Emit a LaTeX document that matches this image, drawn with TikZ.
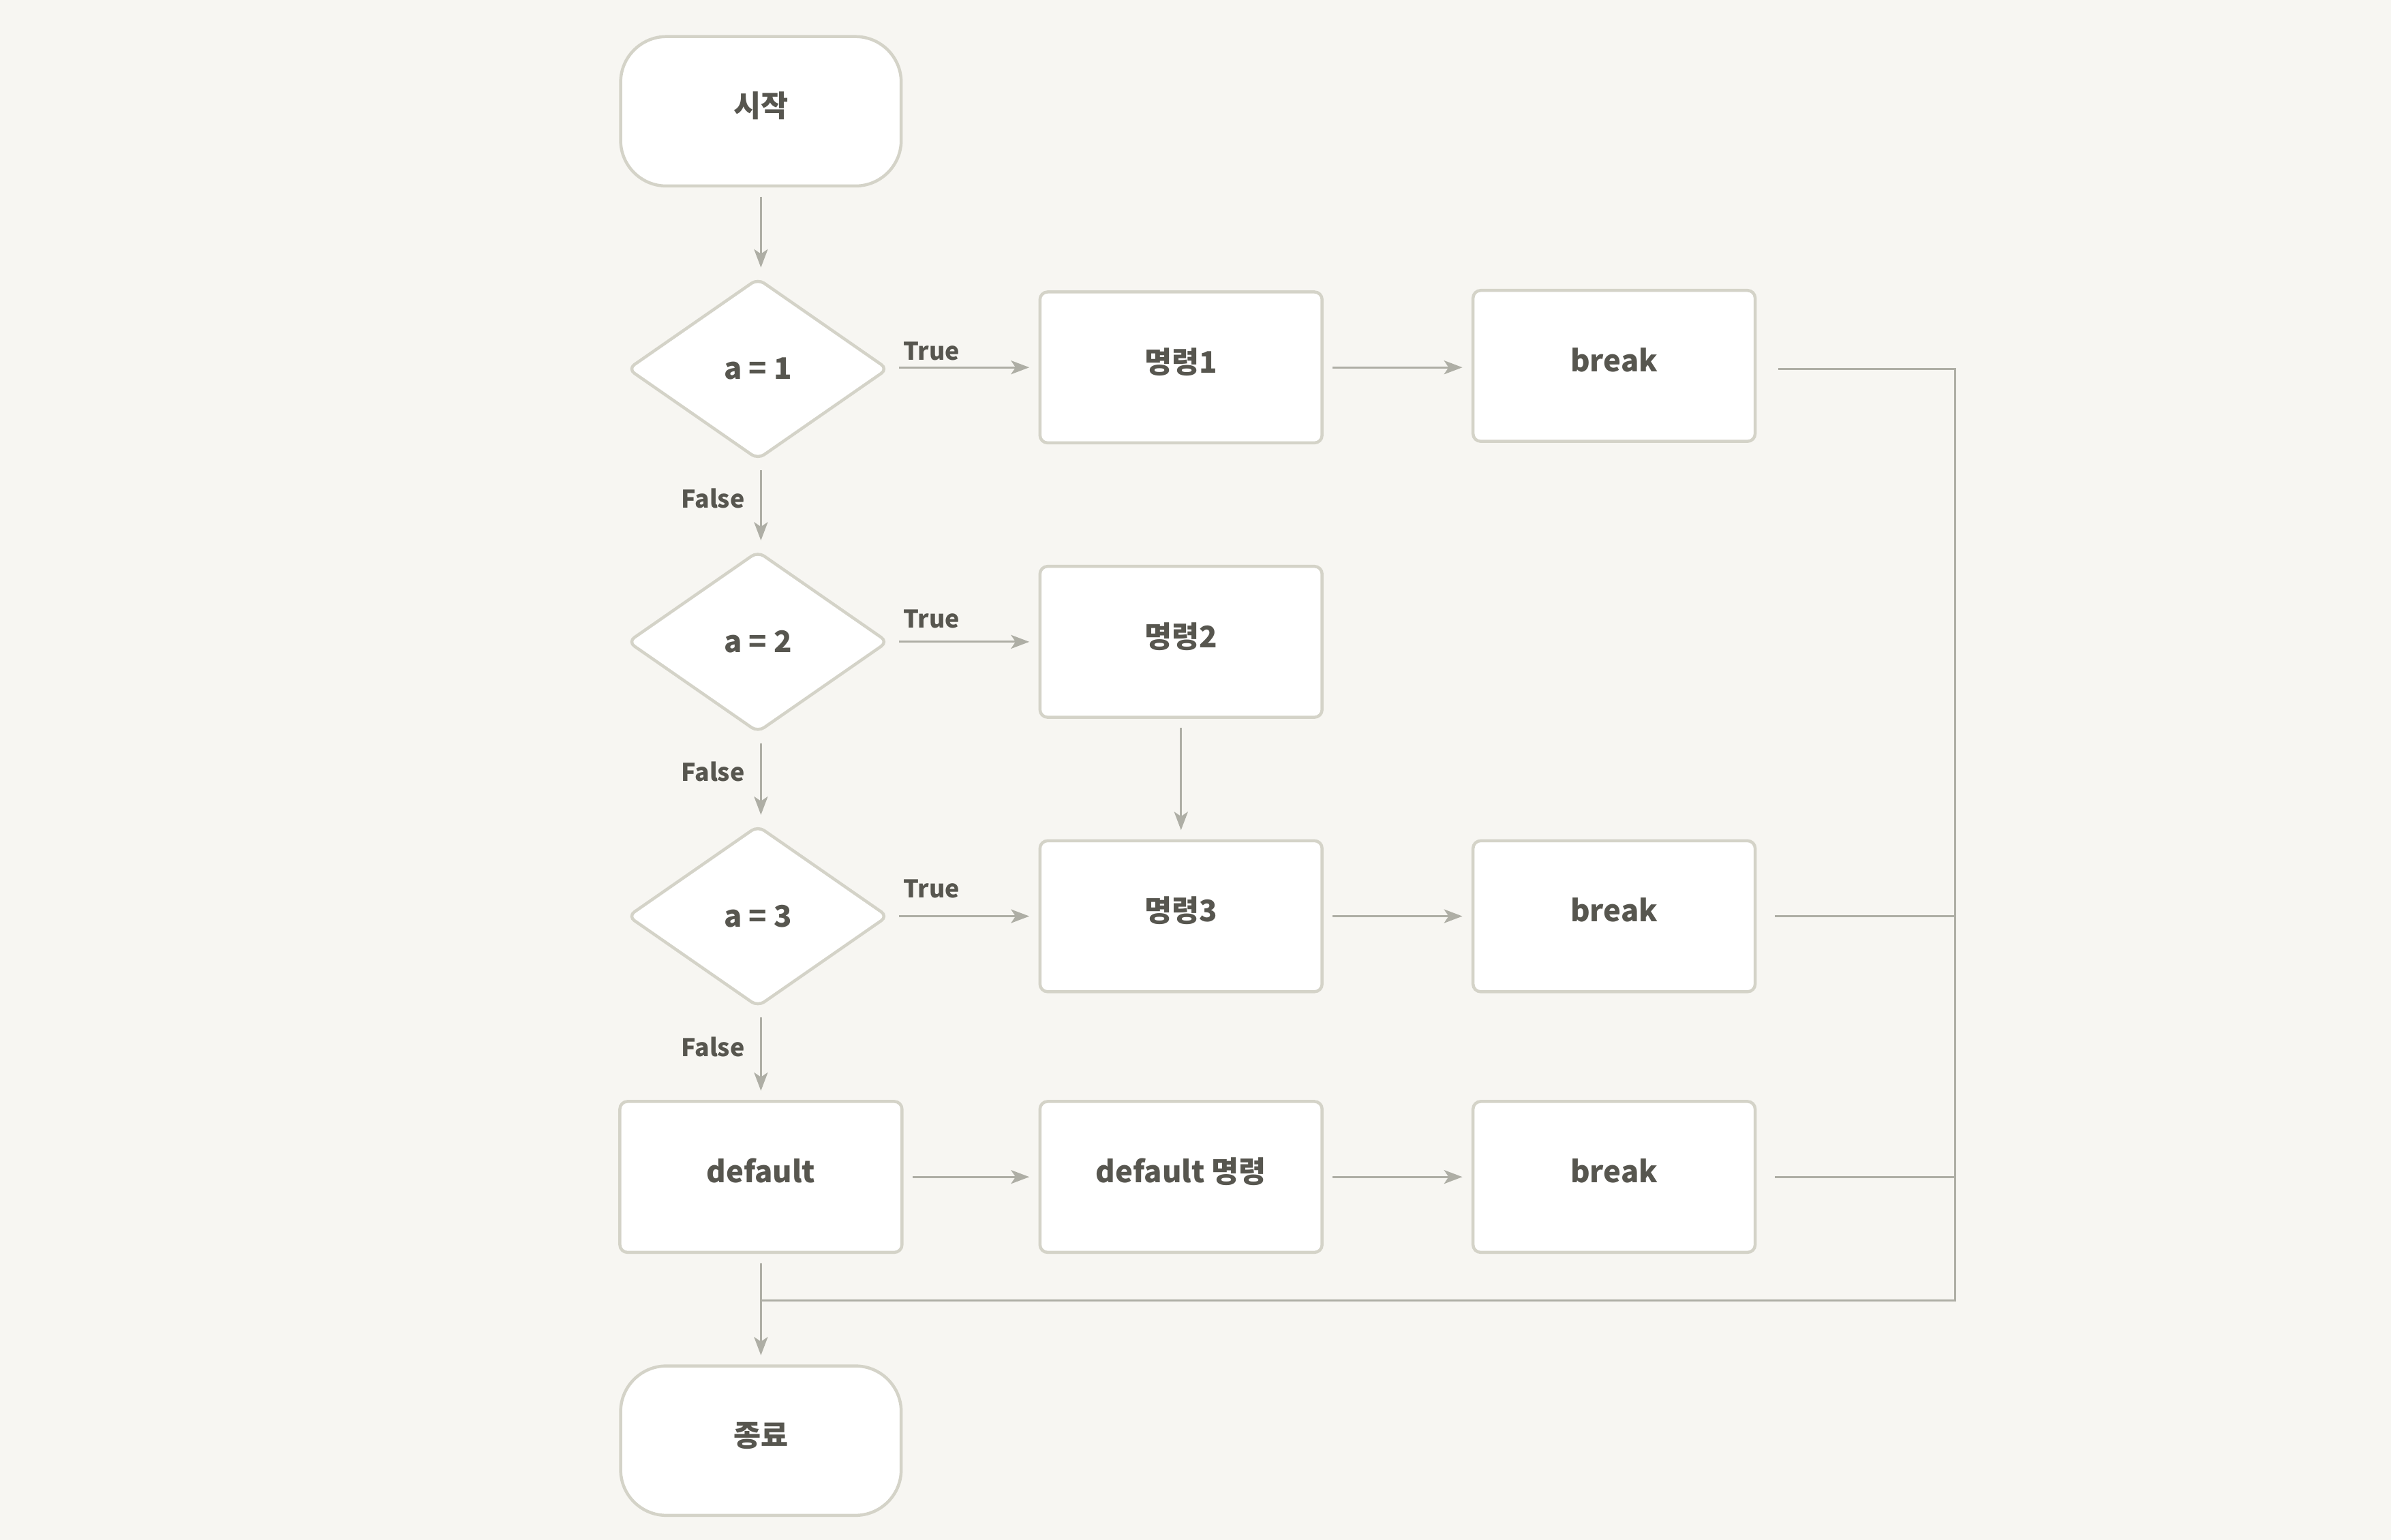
\documentclass[tikz,border=0pt]{standalone}
\usepackage{fontspec}
\setmainfont{Noto Sans CJK KR}
\usetikzlibrary{shapes.geometric,arrows.meta}
\definecolor{bgc}{HTML}{F7F6F2}
\definecolor{edgec}{HTML}{D4D3C8}
\definecolor{linec}{HTML}{AEAEA5}
\definecolor{txtc}{HTML}{57564F}
\tikzset{
  base/.style={draw=edgec, line width=2pt, fill=white, text=txtc, font=\fontsize{19.5}{23}\selectfont\bfseries, inner sep=0pt},
  term/.style={base, rectangle, rounded corners=30pt, minimum width=184pt, minimum height=98pt, text height=12pt, text depth=4.6pt},
  proc/.style={base, rectangle, rounded corners=5pt, minimum width=185pt, minimum height=99pt, text height=12pt, text depth=4.6pt},
  deci/.style={base, diamond, rounded corners=5pt, minimum width=171pt, minimum height=119pt},
  conn/.style={draw=linec, line width=1.4pt},
  arr/.style={conn, -{Stealth[length=12pt,width=9pt,inset=3pt]}, shorten >=6pt, shorten <=6pt},
  lbl/.style={text=txtc, font=\fontsize{16}{19}\selectfont\bfseries, inner sep=0pt}
}
\begin{document}
\begin{tikzpicture}[x=1pt,y=-1pt]
\useasboundingbox (0,0) rectangle (1568,1010);
\fill[bgc] (0,0) rectangle (1568,1010);

\node[term] (start) at (499,73) {시작};
\node[deci] (d1) at (497,242) {a = 1};
\node[proc] (c1) at (774.5,241) {명령1};
\node[proc] (b1) at (1058.5,240) {break};
\node[deci] (d2) at (497,421) {a = 2};
\node[proc] (c2) at (774.5,421) {명령2};
\node[deci] (d3) at (497,601) {a = 3};
\node[proc] (c3) at (774.5,601) {명령3};
\node[proc] (b2) at (1058.5,601) {break};
\node[proc] (def) at (499,772) {default};
\node[proc] (dc) at (774.5,772) {default 명령};
\node[proc] (b3) at (1058.5,772) {break};
\node[term] (end) at (499,945) {종료};

\coordinate (bus1) at (1282,242);
\coordinate (bus2) at (1282,601);
\coordinate (bus3) at (1282,772);
\coordinate (busb) at (1282,853);
\coordinate (join) at (499,853);

\draw[arr] (start.south) -- (start.south |- d1.north);
\draw[arr] (d1.east |- c1.west) -- node[lbl, pos=0.28, above=4pt] (t1) {True} (c1.west);
\draw[arr] (c1.east) -- (c1.east -| b1.west);
\draw[arr] (d1.south -| start.south) -- node[lbl, pos=0.42, left=10pt] (f1) {False} (d2.north -| start.south);
\draw[arr] (d2.east) -- node[lbl, pos=0.28, above=8pt] (t2) {True} (c2.west);
\draw[arr] (c2.south) -- (c3.north);
\draw[arr] (d2.south -| start.south) -- node[lbl, pos=0.42, left=10pt] (f2) {False} (d3.north -| start.south);
\draw[arr] (d3.east) -- node[lbl, pos=0.28, above=11pt] (t3) {True} (c3.west);
\draw[arr] (c3.east) -- (b2.west);
\draw[arr] (d3.south -| start.south) -- node[lbl, pos=0.42, left=10pt] (f3) {False} (def.north);
\draw[arr] (def.east) -- (dc.west);
\draw[arr] (dc.east) -- (b3.west);
\draw[arr] (def.south) -- (end.north);

\draw[conn] ([xshift=14pt]b1.east |- bus1) -- (bus1) -- (busb) -- (join);
\draw[conn] ([xshift=12pt]b2.east) -- (bus2);
\draw[conn] ([xshift=12pt]b3.east) -- (bus3);
\end{tikzpicture}
\end{document}
